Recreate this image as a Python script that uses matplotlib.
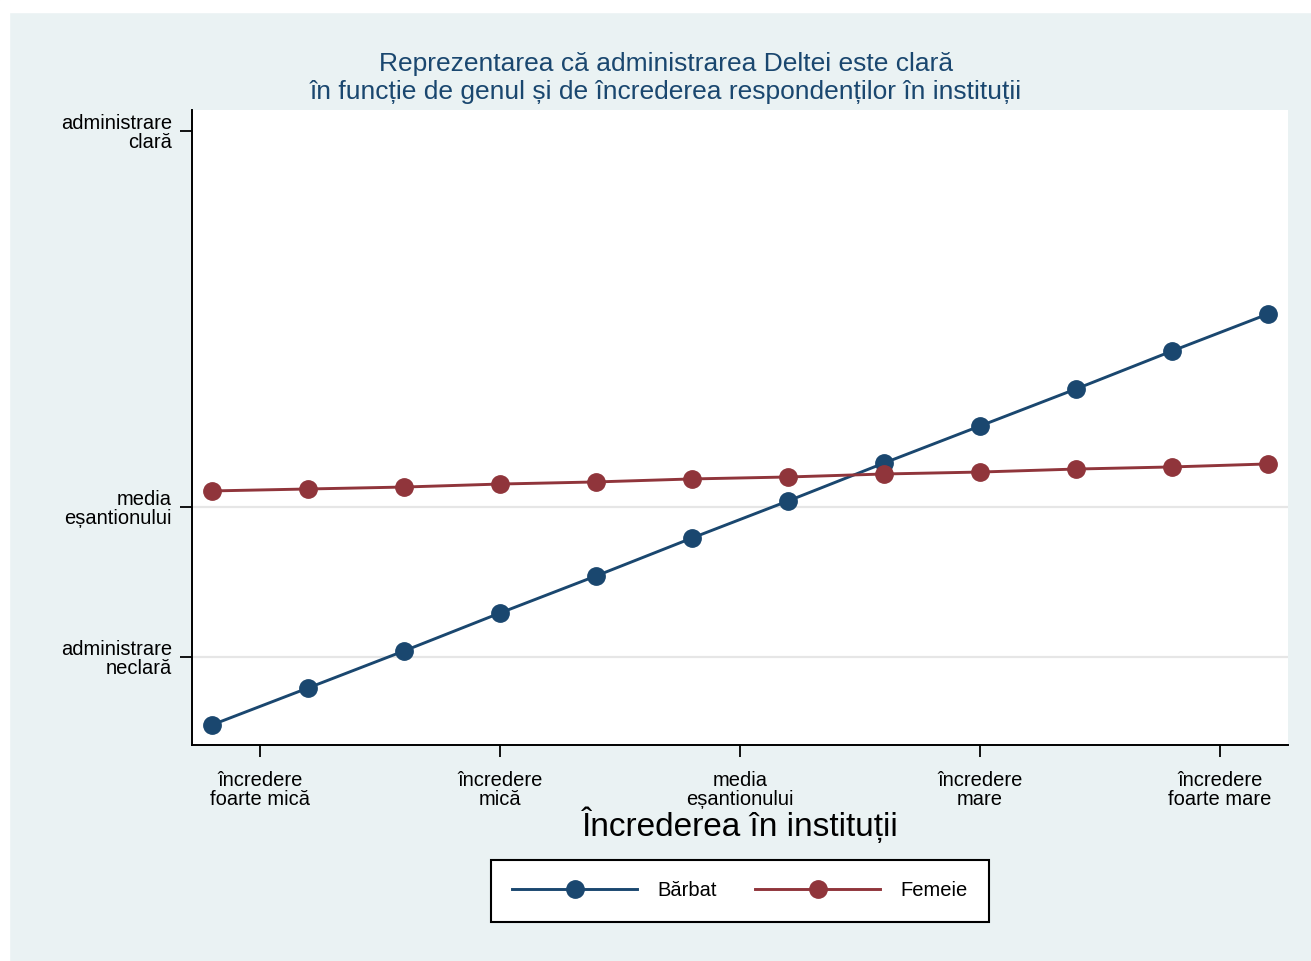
import matplotlib.pyplot as plt
from matplotlib.patches import Rectangle

# date
x_vals = [-2.2, -1.8, -1.4, -1.0, -0.6, -0.2, 0.2, 0.6, 1.0, 1.4, 1.8, 2.2]
barbat = [-1.453, -1.207, -0.96, -0.707, -0.46, -0.207, 0.04, 0.293, 0.54, 0.787, 1.04, 1.287]
femeie = [0.107, 0.12, 0.133, 0.153, 0.167, 0.187, 0.2, 0.22, 0.233, 0.253, 0.267, 0.287]

x_ticks = [-2, -1, 0, 1, 2]
x_labels = ['încredere\nfoarte mică', 'încredere\nmică', 'media\neșantionului',
            'încredere\nmare', 'încredere\nfoarte mare']
y_ticks = [-1, 0, 2.51]
y_labels = ['administrare\nneclară', 'media\neșantionului', 'administrare\nclară']

plt.rcParams['font.family'] = ['Liberation Sans', 'DejaVu Sans']

albastru = '#1a476f'
rosu = '#90353b'
fundal = '#eaf2f3'

fig = plt.figure(figsize=(13.11, 9.61), dpi=100, facecolor=fundal)
# margini albe sus si la stanga
fig.patches.append(Rectangle((0, 0), 9 / 1311, 1, transform=fig.transFigure,
                             color='white', zorder=-1))
fig.patches.append(Rectangle((0, 1 - 12 / 961), 1, 12 / 961, transform=fig.transFigure,
                             color='white', zorder=-1))

ax = fig.add_axes([192 / 1311, 1 - 745 / 961, (1288 - 192) / 1311, (745 - 110) / 961])
ax.set_facecolor('white')

ax.plot(x_vals, barbat, color=albastru, lw=2.1, marker='o', ms=12.5, label='Bărbat', zorder=3)
ax.plot(x_vals, femeie, color=rosu, lw=2.1, marker='o', ms=12.5, label='Femeie', zorder=4)

ax.set_xlim(-2.283, 2.283)
ax.set_ylim(-1.587, 2.647)

for yv in y_ticks[:2]:
    ax.axhline(yv, color='#e6e6e6', lw=1.6, zorder=1)

ax.set_xticks(x_ticks)
ax.set_xticklabels(x_labels, fontsize=14.5, linespacing=1.0)
ax.set_yticks(y_ticks)
ax.set_yticklabels(y_labels, fontsize=14.5, linespacing=1.0, ha='right')
ax.tick_params(axis='both', length=8.6, width=1.3, color='black')
ax.tick_params(axis='x', pad=10.4)
ax.tick_params(axis='y', pad=5.8)

for s in ['top', 'right']:
    ax.spines[s].set_visible(False)
for s in ['left', 'bottom']:
    ax.spines[s].set_linewidth(1.4)

ax.set_xlabel('Încrederea în instituții', fontsize=24, labelpad=-2)

fig.text(666 / 1311, 1 - 64 / 961, 'Reprezentarea că administrarea Deltei este clară',
         ha='center', va='center', fontsize=19, color=albastru)
fig.text(666 / 1311, 1 - 92 / 961, 'în funcție de genul și de încrederea respondenților în instituții',
         ha='center', va='center', fontsize=19, color=albastru)

leg = fig.legend(loc='center', bbox_to_anchor=(740 / 1311, 1 - 891 / 961), ncol=2,
                 fontsize=14.5, frameon=True, fancybox=False, edgecolor='black',
                 facecolor='white', framealpha=1,
                 handlelength=6.2, columnspacing=1.9, handletextpad=1.0,
                 borderpad=1.05, borderaxespad=0)
leg.get_frame().set_linewidth(1.5)

fig.savefig('out.png', dpi=100, facecolor=fig.get_facecolor())
